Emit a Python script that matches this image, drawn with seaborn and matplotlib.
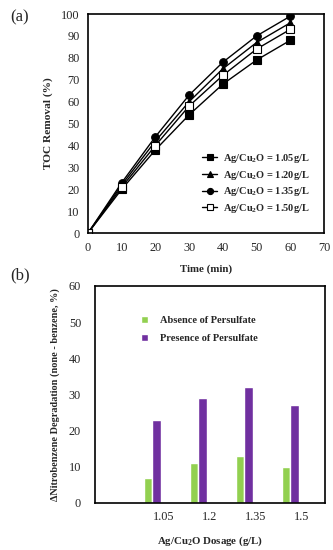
import matplotlib
matplotlib.use("Agg")
import matplotlib.pyplot as plt
import seaborn as sns
import pandas as pd
from matplotlib.ticker import FixedLocator

# ---- data ----
time_min = [0, 10, 20, 30, 40, 50, 60]
toc_105 = [0, 20, 38, 54, 68, 79, 88]
toc_120 = [0, 22, 42, 60, 75, 87, 96]
toc_135 = [0, 23, 44, 63, 78, 90, 99]
toc_150 = [0, 21, 40, 58, 72, 84, 93]
series_labels = [r"Ag/Cu$_\mathbf{2}$O = 1.05g/L", r"Ag/Cu$_\mathbf{2}$O = 1.20g/L",
                 r"Ag/Cu$_\mathbf{2}$O = 1.35g/L", r"Ag/Cu$_\mathbf{2}$O = 1.50g/L"]

dosages = ["1.05", "1.2", "1.35", "1.5"]
absence = [7, 11, 13, 10]
presence = [23, 29, 32, 27]
bar_labels = ["Absence of Persulfate", "Presence of Persulfate"]

sns.set_theme(style="white")
plt.rcParams["font.family"] = ["Liberation Serif", "DejaVu Serif"]
plt.rcParams["mathtext.fontset"] = "custom"
plt.rcParams["mathtext.rm"] = "Liberation Serif"
plt.rcParams["mathtext.bf"] = "Liberation Serif:bold"
plt.rcParams["mathtext.it"] = "Liberation Serif:italic"

fig = plt.figure(figsize=(3.33, 5.5), dpi=100)
ax1 = fig.add_axes([0.264, 0.576, 0.709, 0.3985])
ax2 = fig.add_axes([0.285, 0.0855, 0.691, 0.3945])

# ---- panel (a) ----
line_df = pd.DataFrame({
    "time": time_min * 4,
    "toc": toc_105 + toc_120 + toc_135 + toc_150,
    "series": sum([[s] * len(time_min) for s in series_labels], []),
})
styles = [("s", "black"), ("^", "black"), ("o", "black"), ("s", "white")]
for lab, (mk, fc) in zip(series_labels, styles):
    sub = line_df[line_df["series"] == lab]
    sns.lineplot(data=sub, x="time", y="toc", ax=ax1, color="black", lw=1.0,
                 marker=mk, markersize=5.5, markerfacecolor=fc,
                 markeredgecolor="black", markeredgewidth=0.8, label=lab)
ax1.set_xlim(0, 70)
ax1.set_ylim(0, 100)
ax1.set_xticks(range(0, 71, 10))
ax1.set_yticks(range(0, 101, 10))
ax1.tick_params(direction="in", length=3, width=0.8, labelsize=8.8, pad=6)
for s in ax1.spines.values():
    s.set_linewidth(1.2)
    s.set_color("black")
ax1.set_xlabel("Time (min)", fontsize=7.8, fontweight="bold", labelpad=8)
ax1.set_ylabel("TOC Removal (%)", fontsize=8.2, fontweight="bold", labelpad=6)
leg = ax1.legend(loc="lower right", bbox_to_anchor=(0.98, 0.04), frameon=False,
                 prop={"size": 7.5, "weight": "bold"}, handlelength=1.4,
                 labelspacing=0.35, handletextpad=0.6, markerscale=0.8)
fig.text(0.03, 0.962, "(a)", fontsize=12)

# ---- panel (b) ----
bar_df = pd.DataFrame({
    "dose": dosages * 2,
    "value": absence + presence,
    "cond": [bar_labels[0]] * 4 + [bar_labels[1]] * 4,
})
sns.barplot(data=bar_df, x="dose", y="value", hue="cond", order=dosages,
            palette=["#92D050", "#7030A0"], width=0.38, ax=ax2, saturation=1)
ax2.set_xlim(-1.25, 3.75)
ax2.set_ylim(0, 60)
ax2.set_yticks(range(0, 61, 10))
ax2.xaxis.set_major_locator(FixedLocator([i + 0.25 for i in range(4)]))
ax2.set_xticklabels(dosages)
ax2.xaxis.set_minor_locator(FixedLocator([-0.75, -0.25, 0.75, 1.75, 2.75]))
ax2.tick_params(axis="x", which="major", length=0, labelsize=8.8, pad=6)
ax2.tick_params(axis="x", which="minor", direction="in", length=3, width=0.8)
ax2.tick_params(axis="y", direction="in", length=0, labelsize=8.8, pad=10)
for s in ax2.spines.values():
    s.set_linewidth(1.2)
    s.set_color("black")
ax2.set_xlabel(r"Ag/Cu$_\mathbf{2}$O Dosage (g/L)", fontsize=7.8, fontweight="bold", labelpad=8)
ax2.set_ylabel("ΔNitrobenzene Degradation (none - benzene, %)", fontsize=7.4,
               fontweight="bold", labelpad=6)
ax2.legend(loc="upper left", bbox_to_anchor=(0.16, 0.905), frameon=False,
           prop={"size": 7.5, "weight": "bold"}, handlelength=0.7, handleheight=0.7,
           labelspacing=0.8, handletextpad=1.1)
fig.text(0.03, 0.492, "(b)", fontsize=12)

fig.savefig("out.png", dpi=100)
